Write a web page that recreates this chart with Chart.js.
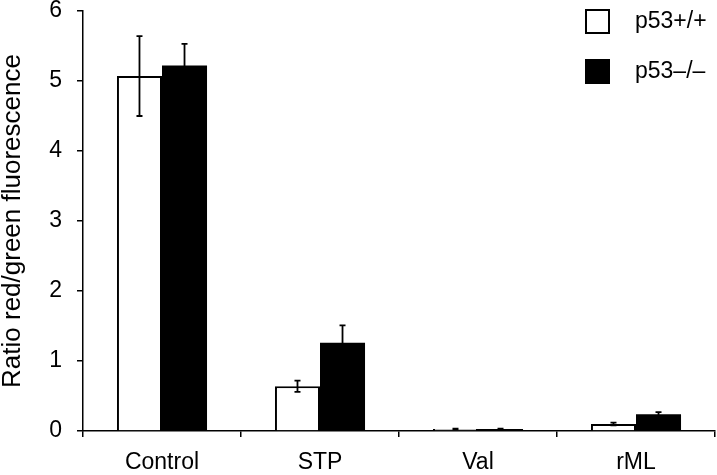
<!DOCTYPE html>
<html>
<head>
<meta charset="utf-8">
<script src="https://cdn.jsdelivr.net/npm/chart.js@4"></script>
<style>
  html, body { margin: 0; padding: 0; background: #fff; }
  #wrap { width: 717px; height: 475px; position: relative; }
</style>
</head>
<body>
<div id="wrap"><canvas id="c"></canvas></div>
<script>
const categories = ['Control', 'STP', 'Val', 'rML'];
const seriesNames = ['p53+/+', 'p53\u2013/\u2013'];
const wtValues = [5.07, 0.64, 0.03, 0.10];
const koValues = [5.22, 1.26, 0.03, 0.24];
const wtErrors = [0.57, 0.08, 0.005, 0.02];
const koErrors = [0.31, 0.25, 0.005, 0.03];
const yTicks = [0, 1, 2, 3, 4, 5, 6];

const FONT = "'Liberation Sans', Arial, Helvetica, sans-serif";

const errorBars = {
  id: 'errorBars',
  afterDatasetsDraw(chart) {
    const ctx = chart.ctx;
    const y = chart.scales.y;
    const errs = [wtErrors, koErrors];
    chart.data.datasets.forEach((ds, di) => {
      const meta = chart.getDatasetMeta(di);
      meta.data.forEach((bar, i) => {
        const v = ds.data[i];
        const e = errs[di][i];
        const yt = y.getPixelForValue(v + e);
        const yb = y.getPixelForValue(v - e);
        ctx.save();
        ctx.strokeStyle = '#000';
        ctx.lineWidth = 1.8;
        ctx.beginPath();
        ctx.moveTo(bar.x, yt); ctx.lineTo(bar.x, yb);
        ctx.moveTo(bar.x - 3, yt); ctx.lineTo(bar.x + 3, yt);
        ctx.moveTo(bar.x - 3, yb); ctx.lineTo(bar.x + 3, yb);
        ctx.stroke();
        ctx.restore();
      });
    });
  }
};

const customLegend = {
  id: 'customLegend',
  afterDraw(chart) {
    const ctx = chart.ctx;
    ctx.save();
    const items = chart.data.datasets;
    const boxX = 585, boxW = 25, boxH = 25;
    const rows = [9, 59];
    items.forEach((ds, i) => {
      const by = rows[i];
      ctx.fillStyle = ds.backgroundColor;
      ctx.fillRect(boxX, by, boxW, boxH);
      ctx.strokeStyle = '#000';
      ctx.lineWidth = 2;
      ctx.strokeRect(boxX + 1, by + 1, boxW - 2, boxH - 2);
      ctx.fillStyle = '#000';
      ctx.font = '23px ' + FONT;
      ctx.textBaseline = 'middle';
      ctx.textAlign = 'left';
      ctx.fillText(ds.label, 635, by + boxH / 2);
    });
    ctx.restore();
  }
};

new Chart(document.getElementById('c'), {
  type: 'bar',
  data: {
    labels: categories,
    datasets: [
      {
        label: seriesNames[0],
        data: wtValues,
        backgroundColor: '#ffffff',
        borderColor: '#000000',
        borderWidth: 2,
        borderSkipped: 'bottom'
      },
      {
        label: seriesNames[1],
        data: koValues,
        backgroundColor: '#000000',
        borderColor: '#000000',
        borderWidth: 0
      }
    ]
  },
  options: {
    responsive: true,
    maintainAspectRatio: false,
    animation: false,
    datasets: { bar: { categoryPercentage: 0.57, barPercentage: 1.0 } },
    layout: { padding: { top: 11, right: 2, left: 0, bottom: 0 } },
    plugins: {
      legend: { display: false },
      tooltip: { enabled: false }
    },
    scales: {
      x: {
        offset: true,
        grid: { offset: true, drawOnChartArea: false, drawTicks: true, tickLength: 6, color: '#000', lineWidth: 1.5 },
        border: { display: true, color: '#000', width: 1.5 },
        ticks: { color: '#000', font: { family: FONT, size: 23 }, padding: 12, maxRotation: 0 },
        afterFit(s) { s.height = 44; s.paddingLeft = 0; s.paddingRight = 0; }
      },
      y: {
        min: 0,
        max: 6,
        afterBuildTicks(s) { s.ticks = yTicks.map(v => ({ value: v })); },
        grid: { drawOnChartArea: false, drawTicks: true, tickLength: 6, color: '#000', lineWidth: 1.5 },
        border: { display: true, color: '#000', width: 1.5 },
        ticks: { color: '#000', font: { family: FONT, size: 23, lineHeight: 0.9 }, padding: 15 },
        title: {
          display: true,
          text: 'Ratio red/green fluorescence',
          color: '#000',
          font: { family: FONT, size: 26, lineHeight: 1 },
          padding: { top: 0, bottom: 0 }
        },
        afterFit(s) { s.width = 83; s.paddingTop = 0; s.paddingBottom = 0; }
      }
    }
  },
  plugins: [errorBars, customLegend]
});
</script>
</body>
</html>
